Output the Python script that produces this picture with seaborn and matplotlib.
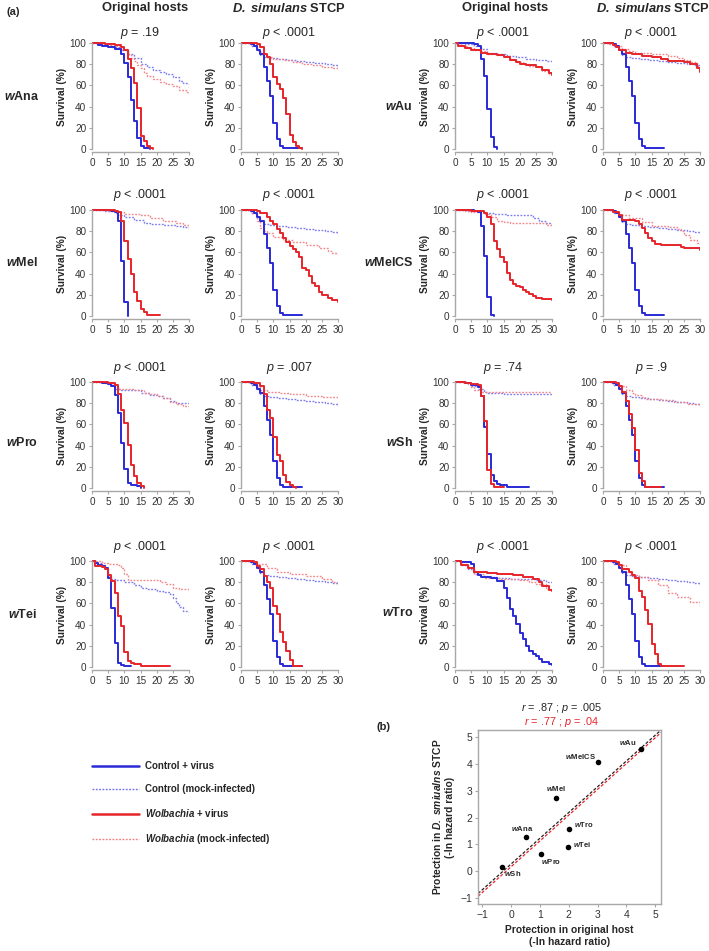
import numpy as np
import pandas as pd
import matplotlib
matplotlib.use("Agg")
import matplotlib.pyplot as plt
from matplotlib.lines import Line2D
import seaborn as sns

# ---- survival curves: (day, % alive) at each step ----
# D. simulans STCP controls (same flies in every STCP panel)
stcp_ctrl_virus = [(0,100),(3,99),(4,97),(5,93),(6,90),(7,77),(8,64),(9,50),(10,25),(11,9),(12,3),(13,1),(14,0.5),(19,0.5)]
stcp_ctrl_mock = [(0,100),(3,97),(5,93),(6,89),(7,87),(9,86),(11,85),(14,84),(17,83),(20,82),(23,81),(26,80),(28,79),(30,77)]

wAna_orig_cv = [(0,100),(2,98),(3,97),(5,96),(7,94),(9,90),(10,81),(11,68),(12,46),(13,26),(14,10),(15,3),(16,1),(18,0)]
wAna_orig_cm = [(0,100),(3,98),(6,96),(9,93),(11,90),(13,86),(15,80),(17,77),(19,75),(21,73),(23,71),(25,68),(27,64),(28,62),(30,57)]
wAna_orig_wv = [(0,100),(4,99),(7,98),(9,96),(10,93),(11,85),(12,76),(13,62),(14,39),(15,12),(16,8),(17,3),(18,1),(19,0)]
wAna_orig_wm = [(0,100),(3,99),(6,97),(9,94),(11,90),(12,86),(13,83),(14,79),(15,76),(16,72),(17,69),(19,66),(21,63),(23,61),(25,59),(27,56),(29,54),(30,52)]
wAna_stcp_wv = [(0,100),(5,99),(6,96),(7,90),(8,87),(9,80),(10,68),(11,61),(12,57),(13,48),(14,33),(15,13),(16,7),(17,3),(18,1),(19,0)]
wAna_stcp_wm = [(0,100),(3,98),(5,93),(6,90),(8,87),(10,85),(13,84),(16,82),(19,80),(22,79),(25,77),(28,76),(30,75)]

wAu_orig_cv = [(0,100),(6,99),(7,97),(8,85),(9,69),(10,38),(11,11),(12,2),(13,0)]
wAu_orig_cm = [(0,100),(3,99),(6,97),(8,94),(10,91),(13,90),(16,88),(19,87),(22,85),(25,84),(28,83),(30,82)]
wAu_orig_wv = [(0,100),(1,97),(3,95),(5,93),(8,91),(10,90),(13,89),(15,87),(17,84),(19,82),(20,80),(22,79),(25,77),(27,75),(29,72),(30,70)]
wAu_orig_wm = [(0,100),(2,97),(4,95),(6,93),(8,92),(10,90),(13,89),(15,88),(17,85),(19,82),(21,80),(23,78),(25,77),(27,74),(29,71),(30,69)]
wAu_stcp_wv = [(0,100),(3,98),(4,96),(5,93),(7,91),(9,90),(12,88),(15,87),(18,85),(20,83),(25,82),(27,80),(29,76),(30,73)]
wAu_stcp_wm = [(0,100),(2,99),(4,97),(6,94),(8,92),(10,91),(15,90),(20,88),(23,86),(25,84),(27,82),(29,78),(30,76)]

wMel_orig_cv = [(0,100),(6,99),(7,98),(8,90),(9,52),(10,13),(11,0)]
wMel_orig_cm = [(0,100),(4,99),(7,97),(8,95),(10,93),(13,91),(16,88),(18,87),(22,86),(26,85),(28,84),(30,82)]
wMel_orig_wv = [(0,100),(7,99),(8,98),(9,90),(10,71),(11,54),(12,40),(13,23),(14,14),(15,7),(16,4),(17,1),(21,1)]
wMel_orig_wm = [(0,100),(5,99),(7,98),(10,96),(15,95),(18,92),(22,90),(26,88),(28,86),(30,84)]
wMel_stcp_wv = [(0,100),(5,99),(6,97),(8,93),(9,90),(10,87),(11,82),(12,78),(13,74),(14,70),(15,66),(16,63),(17,60),(18,56),(19,45),(20,43),(21,38),(22,31),(23,28),(24,23),(25,20),(27,17),(28,15),(30,13)]
wMel_stcp_wm = [(0,100),(3,97),(5,90),(6,83),(7,80),(8,78),(10,75),(13,72),(16,70),(20,67),(24,64),(27,61),(28,59),(30,58)]

wMelCS_orig_cv = [(0,100),(6,99),(7,98),(8,85),(9,57),(10,18),(11,1),(12,0)]
wMelCS_orig_cm = [(0,100),(4,99),(7,98),(9,97),(12,96),(16,95),(23,95),(24,92),(26,90),(28,88),(30,85)]
wMelCS_orig_wv = [(0,100),(5,99),(9,97),(10,93),(11,87),(12,71),(13,63),(14,56),(15,51),(16,41),(17,34),(18,30),(19,28),(20,27),(21,25),(22,23),(23,21),(24,19),(25,17),(27,16),(30,15)]
wMelCS_orig_wm = [(0,100),(3,99),(5,98),(9,96),(11,93),(13,90),(15,89),(17,88),(25,88),(28,86),(30,85)]
wMelCS_stcp_wv = [(0,100),(3,98),(5,95),(6,91),(10,90),(11,87),(12,83),(13,78),(14,74),(15,71),(16,68),(18,67),(22,67),(24,65),(25,64),(29,64),(30,62)]
wMelCS_stcp_wm = [(0,100),(3,98),(5,95),(8,92),(12,89),(15,85),(20,84),(23,82),(24,80),(25,76),(27,72),(29,69),(30,66)]

wPro_orig_cv = [(0,100),(3,99),(5,98),(6,96),(7,88),(8,71),(9,42),(10,18),(11,5),(12,3),(14,2),(15,0)]
wPro_orig_cm = [(0,100),(4,99),(6,97),(7,93),(9,92),(13,92),(15,90),(18,88),(20,87),(22,85),(24,82),(26,80),(30,80)]
wPro_orig_wv = [(0,100),(5,99),(7,97),(8,89),(9,74),(10,61),(11,41),(12,22),(13,11),(14,5),(15,2),(16,0)]
wPro_orig_wm = [(0,100),(5,98),(7,95),(8,93),(13,92),(16,90),(18,89),(20,87),(22,85),(24,81),(26,79),(28,77),(30,74)]
wPro_stcp_wv = [(0,100),(4,99),(6,96),(7,89),(8,74),(9,66),(10,48),(11,31),(12,25),(13,12),(14,6),(15,3),(16,1),(17,0)]
wPro_stcp_wm = [(0,100),(3,98),(5,95),(6,92),(8,91),(12,90),(15,89),(20,87),(25,86),(30,86)]

wSh_orig_cv = [(0,100),(3,99),(5,97),(7,95),(8,87),(9,58),(10,32),(11,12),(12,7),(13,4),(14,3),(16,1),(23,1)]
wSh_orig_cm = [(0,100),(4,98),(5,96),(7,93),(9,91),(10,90),(15,89),(30,89)]
wSh_orig_wv = [(0,100),(3,99),(5,98),(7,97),(8,87),(9,63),(10,17),(11,4),(12,1),(15,1)]
wSh_orig_wm = [(0,100),(4,98),(5,95),(6,92),(8,91),(30,91)]
wSh_stcp_wv = [(0,100),(4,99),(5,96),(6,91),(7,82),(8,70),(9,57),(10,36),(11,14),(12,7),(13,1),(18,1)]
wSh_stcp_wm = [(0,100),(3,98),(5,96),(7,92),(9,90),(10,88),(12,86),(13,84),(18,83),(22,81),(26,79),(30,78)]

wTei_orig_cv = [(0,100),(1,98),(2,96),(3,95),(4,93),(5,84),(6,56),(7,23),(8,4),(9,2),(10,1),(12,1)]
wTei_orig_cm = [(0,100),(1,98),(3,96),(4,93),(5,86),(6,83),(7,82),(10,80),(13,77),(15,75),(17,74),(20,72),(22,71),(24,69),(25,65),(26,60),(27,57),(28,53),(30,48)]
wTei_orig_wv = [(0,100),(1,95),(3,94),(4,92),(5,87),(6,81),(7,70),(8,48),(9,39),(10,14),(11,6),(12,4),(13,3),(15,1),(24,1)]
wTei_orig_wm = [(0,100),(3,98),(5,97),(8,96),(9,93),(10,88),(11,82),(19,82),(21,80),(23,78),(25,75),(27,74),(30,72)]
wTei_stcp_wv = [(0,100),(4,99),(5,95),(6,92),(7,86),(8,80),(9,75),(10,58),(11,50),(12,33),(13,24),(14,15),(15,7),(16,1),(19,1)]
wTei_stcp_wm = [(0,100),(3,99),(5,97),(8,93),(11,90),(15,88),(20,86),(25,83),(28,80),(30,80)]

wTro_orig_cv = [(0,100),(2,99),(5,97),(6,90),(7,87),(8,85),(11,84),(13,81),(15,75),(16,65),(17,55),(18,48),(19,41),(20,32),(21,26),(22,20),(23,15),(24,12),(25,10),(26,8),(27,5),(29,3),(30,2)]
wTro_orig_cm = [(0,100),(2,96),(4,92),(6,88),(8,86),(10,85),(13,84),(17,83),(21,83),(25,82),(28,80),(30,79)]
wTro_orig_wv = [(0,100),(2,96),(4,93),(6,90),(10,89),(13,88),(18,87),(21,85),(24,83),(26,80),(27,76),(29,73),(30,72)]
wTro_orig_wm = [(0,100),(2,97),(4,93),(6,88),(9,84),(14,83),(20,82),(23,80),(25,78),(28,74),(30,71)]
wTro_stcp_wv = [(0,100),(4,99),(5,96),(6,92),(8,90),(9,87),(10,84),(11,72),(12,66),(13,54),(14,41),(15,22),(16,12),(17,3),(18,1),(25,1)]
wTro_stcp_wm = [(0,100),(3,98),(5,96),(7,90),(9,87),(11,85),(14,82),(17,77),(20,70),(23,66),(27,61),(30,57)]

hosts_left = ["wAna", "wMel", "wPro", "wTei"]
hosts_right = ["wAu", "wMelCS", "wSh", "wTro"]
p_orig = {"wAna": "= .19", "wAu": "< .0001", "wMel": "< .0001", "wMelCS": "< .0001",
          "wPro": "< .0001", "wSh": "= .74", "wTei": "< .0001", "wTro": "< .0001"}
p_stcp = {"wAna": "< .0001", "wAu": "< .0001", "wMel": "< .0001", "wMelCS": "< .0001",
          "wPro": "= .007", "wSh": "= .9", "wTei": "< .0001", "wTro": "< .0001"}

# ---- panel (b) ----
scatter_hosts = ["wAu", "wMelCS", "wMel", "wTro", "wAna", "wTei", "wPro", "wSh"]
prot_orig = [4.5, 3.0, 1.57, 2.0, 0.53, 1.98, 1.05, -0.3]
prot_stcp = [4.57, 4.08, 2.73, 1.57, 1.28, 0.9, 0.63, 0.15]
red_fit = (0.96, 0.17)  # slope, intercept of the second (red) fit

orig = {
    "wAna": [wAna_orig_cm, wAna_orig_wm, wAna_orig_cv, wAna_orig_wv],
    "wAu": [wAu_orig_cm, wAu_orig_wm, wAu_orig_cv, wAu_orig_wv],
    "wMel": [wMel_orig_cm, wMel_orig_wm, wMel_orig_cv, wMel_orig_wv],
    "wMelCS": [wMelCS_orig_cm, wMelCS_orig_wm, wMelCS_orig_cv, wMelCS_orig_wv],
    "wPro": [wPro_orig_cm, wPro_orig_wm, wPro_orig_cv, wPro_orig_wv],
    "wSh": [wSh_orig_cm, wSh_orig_wm, wSh_orig_cv, wSh_orig_wv],
    "wTei": [wTei_orig_cm, wTei_orig_wm, wTei_orig_cv, wTei_orig_wv],
    "wTro": [wTro_orig_cm, wTro_orig_wm, wTro_orig_cv, wTro_orig_wv],
}
stcp = {
    "wAna": [stcp_ctrl_mock, wAna_stcp_wm, stcp_ctrl_virus, wAna_stcp_wv],
    "wAu": [stcp_ctrl_mock, wAu_stcp_wm, stcp_ctrl_virus, wAu_stcp_wv],
    "wMel": [stcp_ctrl_mock, wMel_stcp_wm, stcp_ctrl_virus, wMel_stcp_wv],
    "wMelCS": [stcp_ctrl_mock, wMelCS_stcp_wm, stcp_ctrl_virus, wMelCS_stcp_wv],
    "wPro": [stcp_ctrl_mock, wPro_stcp_wm, stcp_ctrl_virus, wPro_stcp_wv],
    "wSh": [stcp_ctrl_mock, wSh_stcp_wm, stcp_ctrl_virus, wSh_stcp_wv],
    "wTei": [stcp_ctrl_mock, wTei_stcp_wm, stcp_ctrl_virus, wTei_stcp_wv],
    "wTro": [stcp_ctrl_mock, wTro_stcp_wm, stcp_ctrl_virus, wTro_stcp_wv],
}

sns.set_style("white")
plt.rcParams["font.family"] = ["Liberation Sans", "DejaVu Sans"]
plt.rcParams["mathtext.fontset"] = "custom"
plt.rcParams["mathtext.rm"] = "Liberation Sans"
plt.rcParams["mathtext.it"] = "Liberation Sans:italic"
plt.rcParams["mathtext.bf"] = "Liberation Sans:bold"
plt.rcParams["mathtext.bfit"] = "Liberation Sans:italic:bold"

BLUE, BLUE_L = "#2a2ad6", "#7070ee"
RED, RED_L = "#e6252b", "#f27c82"
DOT = (0, (1.3, 1.1))
styles = [  # control mock, wolbachia mock, control virus, wolbachia virus
    dict(color=BLUE_L, linestyle=DOT, linewidth=1.0, alpha=0.9),
    dict(color=RED_L, linestyle=DOT, linewidth=1.0, alpha=0.9),
    dict(color=BLUE, linestyle="-", linewidth=1.4, alpha=1.0),
    dict(color=RED, linestyle="-", linewidth=1.4, alpha=1.0),
]

W, H = 709, 951
fig = plt.figure(figsize=(W / 100, H / 100), dpi=100)


def wlabel(name):
    return r"$\mathbfit{w}$" + name[1:]


def px_axes(left, top, width, height):
    return fig.add_axes([left / W, 1 - (top + height) / H, width / W, height / H])


def survival_panel(left, top100, curves, ptext, ptop):
    unit = 1.06  # px per percent
    ax = px_axes(left, top100 - 2 * unit, 97, 105 * unit)
    for curve, st in zip(curves, styles):
        df = pd.DataFrame(curve, columns=["day", "survival"])
        sns.lineplot(data=df, x="day", y="survival", ax=ax, estimator=None, sort=False,
                     drawstyle="steps-post", legend=False, **st)
    ax.set_xlim(0, 30)
    ax.set_ylim(-3, 102)
    ax.set_xticks(range(0, 31, 5))
    ax.set_yticks(range(0, 101, 20))
    sns.despine(ax=ax)
    for s in ["left", "bottom"]:
        ax.spines[s].set_color("#a8a8a8")
        ax.spines[s].set_linewidth(1.0)
    ax.spines["left"].set_bounds(0, 100)
    ax.tick_params(axis="both", labelsize=7.2, colors="#a8a8a8", labelcolor="#333333",
                   length=2, width=0.8, pad=2, left=True, bottom=True)
    ax.set_xlabel("")
    ax.set_ylabel("Survival (%)", fontsize=7.3, fontweight="bold", labelpad=2)
    fig.text((left + 48.5) / W, 1 - ptop / H, r"$\mathit{p}$ " + ptext,
             ha="center", va="center", fontsize=9)
    return ax


col_x = [92, 241, 455, 603]
row_top = [43, 210, 382, 561]
p_y = [33, 195, 368, 547]
lab_y_left = [97, 263, 443, 615]
lab_y_right = [106, 263, 443, 613]

for r in range(4):
    hl, hr = hosts_left[r], hosts_right[r]
    survival_panel(col_x[0], row_top[r], orig[hl], p_orig[hl], p_y[r])
    survival_panel(col_x[1], row_top[r], stcp[hl], p_stcp[hl], p_y[r])
    survival_panel(col_x[2], row_top[r], orig[hr], p_orig[hr], p_y[r])
    survival_panel(col_x[3], row_top[r], stcp[hr], p_stcp[hr], p_y[r])
    fig.text(22 / W, 1 - lab_y_left[r] / H, wlabel(hl), ha="center", va="center",
             fontsize=9, fontweight="bold")
    fig.text(413 / W, 1 - lab_y_right[r] / H, wlabel(hr), ha="right", va="center",
             fontsize=9, fontweight="bold")

# column headers
for cx, txt in zip([145, 289, 505, 653],
                   ["Original hosts", r"$\mathbfit{D.\ simulans}$ STCP",
                    "Original hosts", r"$\mathbfit{D.\ simulans}$ STCP"]):
    fig.text(cx / W, 1 - 8 / H, txt, ha="center", va="center", fontsize=9.3, fontweight="bold")
fig.text(6 / W, 1 - 12 / H, "(a)", ha="left", va="center", fontsize=8, fontweight="bold")
fig.text(383 / W, 1 - 727 / H, "(b)", ha="center", va="center", fontsize=8, fontweight="bold")

# legend
handles = [Line2D([], [], color=BLUE, lw=1.8),
           Line2D([], [], color=BLUE_L, lw=1.0, linestyle=DOT),
           Line2D([], [], color=RED, lw=1.8),
           Line2D([], [], color=RED_L, lw=1.0, linestyle=DOT)]
labels = ["Control + virus", "Control (mock-infected)",
          r"$\mathbfit{Wolbachia}$ + virus", r"$\mathbfit{Wolbachia}$ (mock-infected)"]
fig.legend(handles, labels, loc="upper left", bbox_to_anchor=(92 / W, 1 - 761 / H),
           frameon=False, prop=dict(size=7, weight="bold"), handlelength=4.8,
           handletextpad=0.7, labelspacing=1.35, borderpad=0, borderaxespad=0)

# panel (b)
axb = px_axes(478, 730, 183, 174)
xlim, ylim = (-1.15, 5.2), (-1.22, 5.26)
slope, icept = np.polyfit(prot_orig, prot_stcp, 1)
xs = np.array(xlim)
fits = pd.DataFrame({"x": np.concatenate([xs, xs]),
                     "y": np.concatenate([icept + slope * xs, red_fit[1] + red_fit[0] * xs]),
                     "fit": ["all"] * 2 + ["red"] * 2})
sns.lineplot(data=fits[fits.fit == "all"], x="x", y="y", ax=axb, color="#222222",
             linestyle=(0, (2.5, 1.5)), linewidth=0.9, legend=False)
sns.lineplot(data=fits[fits.fit == "red"], x="x", y="y", ax=axb, color=RED,
             linestyle=(0, (2.5, 1.5)), linewidth=0.9, legend=False)
pts = pd.DataFrame({"orig": prot_orig, "stcp": prot_stcp, "host": scatter_hosts})
sns.scatterplot(data=pts, x="orig", y="stcp", ax=axb, color="black", s=16,
                edgecolor="black", linewidth=0, zorder=5)
offsets = {"wAu": (-9, 4), "wMelCS": (-12, 3.6), "wMel": (0, 6.5), "wTro": (11, 3.6),
           "wAna": (-3, 6), "wTei": (10, 1.5), "wPro": (7, -5), "wSh": (7, -4.5)}
for h, xo, yo in zip(scatter_hosts, prot_orig, prot_stcp):
    axb.annotate(wlabel(h), (xo, yo), xytext=offsets[h], textcoords="offset points",
                 ha="center", va="center", fontsize=5.5, fontweight="bold")
axb.set_xlim(*xlim)
axb.set_ylim(*ylim)
axb.set_xticks(range(-1, 6))
axb.set_yticks(range(-1, 6))
for s in axb.spines.values():
    s.set_color("#a8a8a8")
    s.set_linewidth(1.0)
axb.tick_params(axis="both", labelsize=7.5, colors="#a8a8a8", labelcolor="#333333",
                length=2, width=0.8, pad=2, left=True, bottom=True)
axb.set_xlabel("Protection in original host\n(-ln hazard ratio)", fontsize=7.4,
               fontweight="bold", labelpad=4)
axb.set_ylabel("Protection in " + r"$\mathbfit{D.\ smiualns}$" + " STCP\n(-ln hazard ratio)",
               fontsize=7.4, fontweight="bold", labelpad=4)
fig.text(562 / W, 1 - 708 / H, r"$\mathit{r}$ = .87 ; $\mathit{p}$ = .005",
         ha="center", va="center", fontsize=7.8)
fig.text(562 / W, 1 - 722 / H, r"$\mathit{r}$ = .77 ; $\mathit{p}$ = .04",
         ha="center", va="center", fontsize=7.8, color=RED)

fig.savefig("out.png", dpi=100)
